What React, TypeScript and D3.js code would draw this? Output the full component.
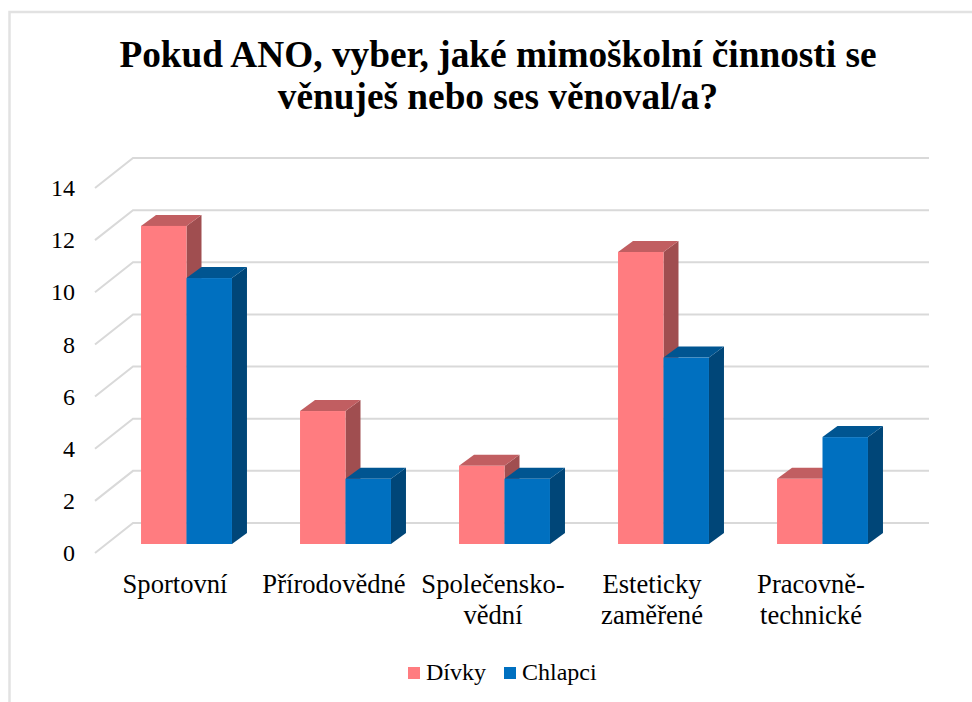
import React, { useEffect, useRef } from "react";
import * as d3 from "d3";

const categories = ["Sportovní", "Přírodovědné", "Společensko-\nvědní", "Esteticky\nzaměřené", "Pracovně-\ntechnické"];
const divky = [12.2, 5.1, 3, 11.2, 2.5];
const chlapci = [10.2, 2.5, 2.5, 7.15, 4.1];
const yTicks = [0, 2, 4, 6, 8, 10, 12, 14];
const titleLines = ["Pokud ANO, vyber, jaké mimoškolní činnosti se", "věnuješ nebo ses věnoval/a?"];

const series = [
   { name: "Dívky", values: divky, front: "#ff7c80", top: "#c15e61", side: "#a04e50" },
   { name: "Chlapci", values: chlapci, front: "#0070c0", top: "#005591", side: "#004678" },
];

const FONT = "'Liberation Serif', serif";

export default function App() {
   const svgRef = useRef<SVGSVGElement>(null);

   useEffect(() => {
      const w = 972;
      const h = 702;
      const svg = d3.select(svgRef.current);
      svg.selectAll("*").remove();

      // frame around the chart
      svg.append("path")
         .attr("d", d3.line()([[9.5, h], [9.5, 12], [w, 12]]))
         .attr("fill", "none")
         .attr("stroke", "#e2e2e2")
         .attr("stroke-width", 2.5);

      // title
      svg.append("g")
         .selectAll("text")
         .data(titleLines)
         .join("text")
         .attr("x", 498)
         .attr("y", (d, i) => 67 + i * 42)
         .attr("text-anchor", "middle")
         .attr("font-family", FONT)
         .attr("font-weight", "bold")
         .attr("font-size", 37.3)
         .attr("fill", "#000")
         .text((d) => d);

      // scales
      const wallY = d3.scaleLinear().domain([0, 14]).range([523, 158]);
      const barY = d3.scaleLinear().domain([0, 14]).range([544, 179]);
      const xBand = d3.scaleBand().domain(categories).range([107, 902]).paddingInner(0.428).paddingOuter(0.214);
      const xSeries = d3.scaleBand().domain(series.map((s) => s.name)).range([0, xBand.bandwidth()]);

      // gridlines: floor/side slant and back wall
      const wallDx = 38;
      const wallDy = 30;
      const wallLine = d3.line();
      svg.append("g")
         .selectAll("path")
         .data(yTicks)
         .join("path")
         .attr("d", (t) =>
            wallLine([
               [133 - wallDx, wallY(t) + wallDy],
               [133, wallY(t)],
               [929, wallY(t)],
            ])
         )
         .attr("fill", "none")
         .attr("stroke", "#d9d9d9")
         .attr("stroke-width", 2);

      // y axis labels sit on the front edge
      const yAxis = d3.axisLeft(wallY).tickValues(yTicks).tickSize(0).tickPadding(0);
      const yG = svg.append("g").attr("transform", `translate(75, ${wallDy})`).call(yAxis);
      yG.select(".domain").remove();
      yG.selectAll("text").attr("font-family", FONT).attr("font-size", 24).attr("fill", "#000");

      // 3d bars
      const depthX = 15;
      const depthY = 11;
      categories.forEach((c, ci) => {
         // right bar is drawn last so it covers the side of the left one
         series.forEach((s) => {
            const x0 = xBand(c) + xSeries(s.name);
            const x1 = x0 + xSeries.bandwidth();
            const yTop = barY(s.values[ci]);
            const yBase = barY(0);
            const g = svg.append("g");
            g.append("path")
               .attr("d", d3.line()([[x1, yTop], [x1 + depthX, yTop - depthY], [x1 + depthX, yBase - depthY], [x1, yBase]]))
               .attr("fill", s.side);
            g.append("path")
               .attr("d", d3.line()([[x0, yTop], [x0 + depthX, yTop - depthY], [x1 + depthX, yTop - depthY], [x1, yTop]]))
               .attr("fill", s.top);
            g.append("rect")
               .attr("x", x0)
               .attr("y", yTop)
               .attr("width", x1 - x0)
               .attr("height", yBase - yTop)
               .attr("fill", s.front);
         });
      });

      // category labels, wrapped on \n
      const xAxis = d3.axisBottom(xBand).tickSize(0).tickPadding(0).tickFormat(() => "");
      const xG = svg.append("g").attr("transform", "translate(-11.5, 593)").call(xAxis);
      xG.select(".domain").remove();
      xG.selectAll(".tick text").each(function (d) {
         const t = d3.select(this).attr("y", 0).attr("dy", 0).attr("font-family", FONT).attr("font-size", 26.6).attr("fill", "#000");
         String(d)
            .split("\n")
            .forEach((line, i) => {
               t.append("tspan").attr("x", 0).attr("y", i * 31).text(line);
            });
      });

      // legend
      const legendX = [408, 504];
      const legend = svg.append("g")
         .selectAll("g")
         .data(series)
         .join("g")
         .attr("transform", (d, i) => `translate(${legendX[i]}, 667)`);
      legend.append("rect").attr("width", 12).attr("height", 12).attr("fill", (d) => d.front);
      legend.append("text")
         .attr("x", 18)
         .attr("y", 13)
         .attr("font-family", FONT)
         .attr("font-size", 24)
         .attr("fill", "#000")
         .text((d) => d.name);
   }, []);

   return <svg ref={svgRef} width={972} height={702} style={{ position: "absolute", left: 0, top: 0, background: "#fff" }}></svg>;
}
